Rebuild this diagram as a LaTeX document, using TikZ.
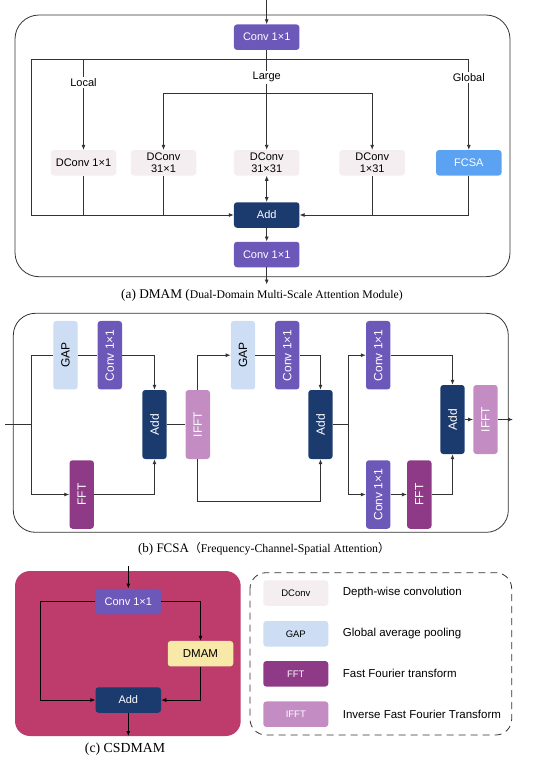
\documentclass[tikz,border=0pt]{standalone}
\usepackage{fontspec}
\usepackage{graphicx}
\setmainfont{Liberation Serif}
\setsansfont{Liberation Sans}
\newfontfamily\cjk{Noto Sans CJK SC}
\usetikzlibrary{arrows.meta,calc}
\definecolor{convc}{HTML}{6B58B8}
\definecolor{fcsac}{HTML}{5BA3F2}
\definecolor{addcol}{HTML}{1B3A6E}
\definecolor{dconvc}{HTML}{F4EEF0}
\definecolor{gapc}{HTML}{CCDDF4}
\definecolor{fftc}{HTML}{8E3A86}
\definecolor{ifftc}{HTML}{C38DC4}
\definecolor{dmamc}{HTML}{F8E9A9}
\definecolor{pinkbg}{HTML}{BD3C6B}
\definecolor{linec}{HTML}{333333}
\tikzset{
  blk/.style={draw=none, rounded corners=3pt, inner sep=0pt, align=center,
    font=\sffamily\fontsize{11}{12.5}\selectfont},
  hbox/.style={blk, minimum width=65.5pt, minimum height=25.5pt},
  vbox/.style={blk, minimum width=24.4pt, minimum height=68.5pt,
    font=\sffamily\fontsize{12}{13}\selectfont},
  convs/.style={fill=convc, text=white},
  fcsas/.style={fill=fcsac, text=white},
  adds/.style={fill=addcol, text=white},
  dconvs/.style={fill=dconvc, text=black},
  gaps/.style={fill=gapc, text=black},
  ffts/.style={fill=fftc, text=white},
  iffts/.style={fill=ifftc, text=white},
  dmams/.style={fill=dmamc, text=black},
  ln/.style={draw=linec, line width=0.8pt},
  arr/.style={ln, -{Latex[length=5pt,width=4pt]}},
  darr/.style={ln, {Latex[length=5pt,width=4pt]}-{Latex[length=5pt,width=4pt]}},
  lbl/.style={fill=white, inner sep=1.5pt, font=\sffamily\fontsize{11}{12.5}\selectfont},
  frame/.style={draw=linec, line width=0.8pt, rounded corners=24pt},
  legtxt/.style={anchor=west, inner sep=0pt, font=\sffamily\fontsize{11.5}{13}\selectfont},
  legsw/.style={blk, minimum width=65pt, minimum height=25.5pt, font=\sffamily\fontsize{9.5}{11}\selectfont}
}
\begin{document}
\begin{tikzpicture}[x=1pt,y=-1pt]
\useasboundingbox (0,0) rectangle (550,761);
% ================= (a) DMAM =================
\draw[frame] (15,15) rectangle (510,276.7);
\node[hbox,convs] (conva) at (266.7,37.2) {Conv 1×1};
\node[hbox,dconvs] (d11) at (83.5,162.8) {DConv 1×1};
\node[hbox,dconvs] (d311) at (163.5,162.8) {DConv\\31×1};
\node[hbox,dconvs] (d3131) at (266.7,162.8) {DConv\\31×31};
\node[hbox,dconvs] (d131) at (372.2,162.8) {DConv\\1×31};
\node[hbox,fcsas] (fcsa) at (468.8,162.8) {FCSA};
\node[hbox,adds] (adda) at (266.7,215) {Add};
\node[hbox,convs] (convb) at (266.7,254.5) {Conv 1×1};
\coordinate (ina) at (266.7,0);
\coordinate (outa) at (266.7,284.5);
\coordinate (tl) at (31.7,59.3);
\coordinate (tr) at (468.8,59.3);
\coordinate (bl) at (31.7,215);
\coordinate (ll) at (163.5,93.3);
\coordinate (lr) at (372.2,93.3);
\draw[arr] (ina) -- (conva.north);
\draw[ln] (tl) -- (tr);
\draw[arr] (conva.south) -- (d3131.north);
\draw[arr] (d11.north |- tl) -- (d11.north);
\draw[arr] (tr) -- (fcsa.north);
\draw[ln] (ll) -- (lr);
\draw[arr] (ll) -- (d311.north);
\draw[arr] (lr) -- (d131.north);
\node[lbl] (llocal) at (83.5,82.7) {Local};
\node[lbl] (llarge) at (266.7,77.3) {Large};
\node[lbl] (lglobal) at (468.8,77.3) {Global};
\draw[arr] (tl) -- (bl) -- (adda.west);
\draw[ln] (d11.south) -- (d11.south |- adda.west);
\draw[ln] (d311.south) -- (d311.south |- adda.west);
\draw[arr] (fcsa.south) |- (adda.east);
\draw[ln] (d131.south) -- (d131.south |- adda.east);
\draw[darr] (d3131.south) -- (adda.north);
\draw[arr] (adda.south) -- (convb.north);
\draw[arr] (convb.south) -- (outa);
\node[inner sep=0pt] (capa) at (262,295.5) {\fontsize{13.3}{15}\selectfont (a) DMAM (\fontsize{11.7}{14}\selectfont Dual-Domain Multi-Scale Attention Module)};
% ================= (b) FCSA =================
\draw[frame,rounded corners=22pt] (13.3,313.3) rectangle (508.3,532.3);
\node[vbox,gaps] (gap1) at (65.5,355.2) {\rotatebox{90}{GAP}};
\node[vbox,convs] (conv1) at (109.8,355.2) {\rotatebox{90}{Conv 1×1}};
\node[vbox,adds,minimum height=69pt] (add1) at (154.5,424.5) {\rotatebox{90}{Add}};
\node[vbox,ffts] (fft1) at (81.7,494.5) {\rotatebox{90}{FFT}};
\node[vbox,iffts,minimum height=69pt] (ifft1) at (197.8,424.5) {\rotatebox{90}{IFFT}};
\node[vbox,gaps] (gap2) at (243,355.2) {\rotatebox{90}{GAP}};
\node[vbox,convs] (conv2) at (287.2,355.2) {\rotatebox{90}{Conv 1×1}};
\node[vbox,adds,minimum height=69pt] (add2) at (320.5,424.5) {\rotatebox{90}{Add}};
\node[vbox,convs] (conv3) at (378.2,355.2) {\rotatebox{90}{Conv 1×1}};
\node[vbox,convs] (conv4) at (378.2,494.5) {\rotatebox{90}{Conv 1×1}};
\node[vbox,ffts] (fft2) at (419.3,494.5) {\rotatebox{90}{FFT}};
\node[vbox,adds,minimum height=69pt] (add3) at (452.5,419.5) {\rotatebox{90}{Add}};
\node[vbox,iffts,minimum height=69pt] (ifft2) at (485.5,419.5) {\rotatebox{90}{IFFT}};
\coordinate (inb) at (5,424.5);
\coordinate (sp1) at (31.7,424.5);
\coordinate (b2) at (320.5,501.7);
\coordinate (sp2) at (348.7,424.5);
\coordinate (outb) at (513,419.5);
\draw[ln] (inb) -- (sp1);
\draw[ln] (sp1) |- (gap1.west);
\draw[ln] (gap1.east) -- (conv1.west);
\draw[arr] (conv1.east) -| (add1.north);
\draw[arr] (sp1) |- (fft1.west);
\draw[arr] (fft1.east) -| (add1.south);
\draw[ln] (add1.east) -- (ifft1.west);
\draw[arr] (ifft1.north) |- (gap2.west);
\draw[ln] (gap2.east) -- (conv2.west);
\draw[arr] (conv2.east) -| (add2.north);
\draw[arr] (ifft1.south) |- (b2) -- (add2.south);
\draw[ln] (add2.east) -- (sp2);
\draw[arr] (sp2) |- (conv3.west);
\draw[arr] (sp2) |- (conv4.west);
\draw[arr] (conv3.east) -| (add3.north);
\draw[arr] (conv4.east) -- (fft2.west);
\draw[arr] (fft2.east) -| (add3.south);
\draw[arr] (add3.east) -- (ifft2.west);
\draw[arr] (ifft2.east) -- (outb);
\node[inner sep=0pt] (capb) at (264,548.5) {\fontsize{13}{15}\selectfont (b) FCSA\fontsize{11.8}{14}\selectfont{\cjk （}Frequency-Channel-Spatial Attention{\cjk ）}};
% ================= (c) CSDMAM =================
\fill[pinkbg, rounded corners=15pt] (15,571) rectangle (240.7,736);
\node[hbox,convs] (convc) at (128.3,601.5) {Conv 1×1};
\node[hbox,dmams,font=\sffamily\fontsize{11.5}{13}\selectfont] (dmam) at (200.5,653.7) {DMAM};
\node[hbox,adds] (addc) at (128.3,700) {Add};
\coordinate (inc) at (128.3,566);
\coordinate (cl) at (40,700);
\coordinate (outc) at (128.3,736);
\draw[arr, draw=black] (inc) -- (convc.north);
\draw[arr, draw=black] (convc.west) -| (cl) -- (addc.west);
\draw[arr, draw=black] (convc.east) -| (dmam.north);
\draw[arr, draw=black] (dmam.south) |- (addc.east);
\draw[arr, draw=black] (addc.south) -- (outc);
\node[inner sep=0pt] (capc) at (125,749.5) {\fontsize{13.8}{15}\selectfont (c) CSDMAM};
% ================= legend =================
\draw[draw=linec, line width=0.8pt, dash pattern=on 7pt off 5pt, rounded corners=16pt] (250,572.7) rectangle (511.7,735);
\node[legsw,dconvs] (lg1) at (295.8,593) {DConv};
\node[legsw,gaps] (lg2) at (295.8,633.8) {GAP};
\node[legsw,ffts] (lg3) at (295.8,673.8) {FFT};
\node[legsw,iffts] (lg4) at (295.8,714.2) {IFFT};
\node[legtxt] (lt1) at (342.7,593) {Depth-wise convolution};
\node[legtxt] (lt2) at (342.7,633.8) {Global average pooling};
\node[legtxt] (lt3) at (342.7,673.8) {Fast Fourier transform};
\node[legtxt] (lt4) at (342.7,714.2) {Inverse Fast Fourier Transform};
\end{tikzpicture}
\end{document}
